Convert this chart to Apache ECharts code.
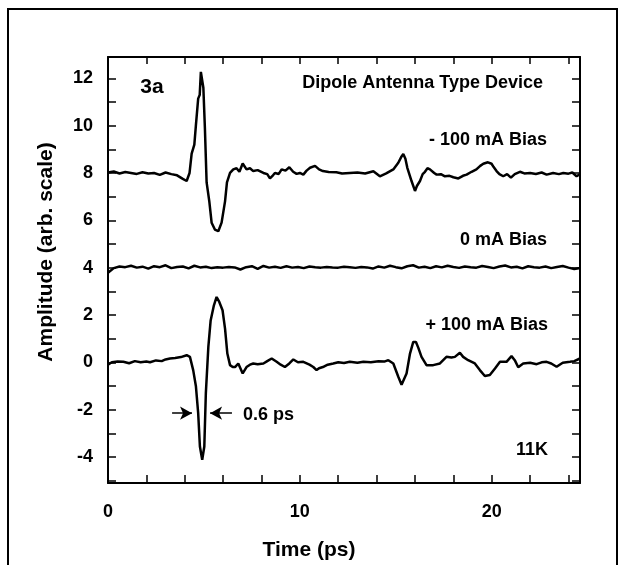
<!DOCTYPE html>
<html><head><meta charset="utf-8">
<script src="https://cdn.jsdelivr.net/npm/echarts@6/dist/echarts.min.js"></script>
<style>html,body{margin:0;padding:0;background:#fff}#c{width:625px;height:565px}</style>
</head><body><div id="c"></div>
<script>
// -100 mA bias trace (time ps, amplitude)
const tMinus = [0,0.3,0.6,0.9,1.2,1.5,1.8,2.1,2.4,2.7,3.0,3.3,3.6,3.9,4.1,4.25,4.36,4.5,4.58,4.7,4.78,4.84,4.97,5.05,5.14,5.28,5.4,5.57,5.75,5.92,6.1,6.2,6.36,6.53,6.7,6.85,7.02,7.22,7.4,7.57,7.8,8.1,8.3,8.44,8.6,8.7,8.9,9.05,9.25,9.45,9.65,9.83,10.0,10.18,10.35,10.53,10.79,11.0,11.2,11.5,11.9,12.2,12.6,13.0,13.4,13.83,14.17,14.5,14.87,15.13,15.3,15.39,15.5,15.6,15.82,16.0,16.1,16.26,16.4,16.52,16.65,16.78,17.0,17.13,17.35,17.56,17.8,18.0,18.26,18.5,18.69,18.95,19.2,19.4,19.56,19.8,19.99,20.1,20.25,20.4,20.6,20.8,21.0,21.2,21.47,21.7,22.0,22.3,22.6,22.86,23.2,23.5,23.73,24.0,24.2,24.42,24.6];
const vMinus = [8.02,8.06,7.98,8.04,8.0,7.96,8.03,7.98,8.0,7.92,8.02,7.95,7.9,7.75,7.66,8.0,8.82,9.2,10.0,11.14,11.3,12.27,11.6,9.9,7.6,6.8,5.9,5.61,5.54,5.9,6.8,7.6,8.0,8.15,8.2,8.05,8.4,8.15,8.2,8.08,8.12,8.0,7.95,7.77,7.9,8.0,7.96,8.15,8.1,8.24,8.05,7.96,8.0,7.93,8.1,8.22,8.3,8.15,8.08,8.04,8.03,7.98,8.0,8.02,7.98,8.07,7.86,7.98,8.15,8.43,8.7,8.8,8.6,8.22,7.66,7.24,7.45,7.66,7.95,8.05,8.2,8.15,8.0,7.93,7.95,7.86,7.88,7.82,7.77,7.88,7.93,8.05,8.15,8.3,8.39,8.45,8.39,8.25,8.08,7.95,7.86,7.95,7.8,7.95,8.05,7.98,8.0,7.96,8.02,7.93,8.0,7.95,8.0,7.97,8.02,7.86,7.95];

// 0 mA bias trace
const tZero = [0,0.3,0.6,0.9,1.2,1.5,1.8,2.1,2.4,2.7,3.0,3.3,3.6,3.9,4.2,4.5,4.8,5.1,5.4,5.7,6.0,6.3,6.6,6.9,7.2,7.5,7.8,8.1,8.4,8.7,9.0,9.3,9.6,9.9,10.2,10.5,10.8,11.1,11.4,11.7,12.0,12.3,12.6,12.9,13.2,13.5,13.8,14.1,14.4,14.7,15.0,15.3,15.6,15.9,16.2,16.5,16.8,17.1,17.4,17.7,18.0,18.3,18.6,18.9,19.2,19.5,19.8,20.1,20.4,20.7,21.0,21.3,21.6,21.9,22.2,22.5,22.8,23.1,23.4,23.7,24.0,24.3,24.6];
const vZero = [3.78,3.98,4.05,4.02,4.08,4.0,4.04,3.96,4.06,4.02,4.1,3.98,4.03,4.05,3.97,4.08,4.01,4.04,3.98,4.02,4.0,4.03,4.01,3.92,4.02,4.06,3.95,4.07,4.0,4.04,3.99,4.06,4.0,4.03,3.98,4.05,4.02,4.0,4.03,4.01,4.0,4.04,4.02,3.99,4.03,4.01,3.96,4.05,4.0,4.08,4.02,3.97,4.06,4.1,4.0,4.04,3.98,4.06,4.01,4.08,4.03,3.99,4.05,4.02,4.0,4.07,4.03,3.98,4.05,4.09,4.01,4.04,3.97,4.06,4.02,4.0,4.05,3.98,4.03,4.07,4.0,3.94,3.98];

// +100 mA bias trace
const tPlus = [0,0.2,0.5,0.8,1.1,1.4,1.7,2.0,2.19,2.5,2.8,3.0,3.23,3.5,3.8,4.1,4.27,4.44,4.58,4.7,4.79,4.91,5.02,5.1,5.23,5.35,5.52,5.66,5.8,5.97,6.1,6.22,6.36,6.5,6.62,6.79,7.02,7.22,7.4,7.57,7.8,8.1,8.3,8.53,8.79,9.0,9.22,9.45,9.66,9.9,10.18,10.5,10.7,10.87,11.0,11.2,11.45,11.74,12.0,12.3,12.6,13.0,13.31,13.7,14.1,14.4,14.61,14.87,15.13,15.3,15.39,15.56,15.74,15.91,16.05,16.17,16.34,16.6,16.95,17.3,17.64,17.9,18.08,18.34,18.51,18.77,19.12,19.38,19.64,19.9,20.17,20.43,20.77,21.03,21.2,21.38,21.64,22.0,22.34,22.6,22.86,23.1,23.38,23.7,24.08,24.3,24.6];
const vPlus = [-0.1,0.0,0.03,0.02,-0.04,0.05,0.0,0.03,0.0,0.08,0.05,0.12,0.16,0.18,0.22,0.3,0.23,-0.33,-1.0,-2.15,-3.56,-4.12,-3.56,-1.3,0.65,1.77,2.41,2.76,2.55,2.2,1.42,0.37,-0.12,-0.2,-0.2,-0.05,-0.47,-0.2,-0.1,-0.05,-0.08,-0.05,0.05,0.16,0.02,-0.1,-0.2,-0.05,0.12,0.0,0.02,-0.1,-0.2,-0.33,-0.25,-0.2,-0.1,-0.05,0.0,-0.03,0.02,-0.02,0.02,0.0,0.04,0.03,0.09,-0.05,-0.61,-0.95,-1.0,-0.47,0.37,0.86,0.86,0.62,0.23,-0.12,-0.12,-0.05,0.23,0.2,0.23,0.4,0.23,0.09,-0.05,-0.33,-0.58,-0.54,-0.26,0.02,0.02,0.26,0.09,-0.21,-0.05,-0.02,-0.08,0.0,0.02,-0.05,-0.19,-0.02,0.02,0.05,0.16];

// axis ticks and labels
const xTicks = [0,2,4,6,8,10,12,14,16,18,20,22,24];
const xLabels = [0,10,20];
const yTicks = [-5,-4,-3,-2,-1,0,1,2,3,4,5,6,7,8,9,10,11,12];
const yLabels = [-4,-2,0,2,4,6,8,10,12];

// pulse-width arrows (amplitude level, left arrow from/to, right arrow from/to)
const arrowY = -2.15;
const arrowLeft = [3.34, 4.38];
const arrowRight = [6.46, 5.32];

const pair = (t, v) => t.map((x, i) => [x, v[i]]);
const FONT = '"Liberation Sans", Arial, sans-serif';
const chart = echarts.init(document.getElementById('c'), null, {renderer: 'canvas'});

const axisCommon = {
  type: 'value',
  axisLine: {show: true, onZero: false, lineStyle: {color: '#000', width: 2}},
  axisTick: {inside: true, length: 8, lineStyle: {color: '#000', width: 1.5}},
  splitLine: {show: false}
};
const lineSeries = (name, data) => ({
  name, type: 'line', data, showSymbol: false, symbol: 'none',
  lineStyle: {color: '#000', width: 2.5}, animation: false, z: 3
});

chart.setOption({
  animation: false,
  backgroundColor: '#fff',
  grid: {left: 108, right: 45, top: 57, bottom: 82},
  xAxis: [
    Object.assign({}, axisCommon, {min: 0, max: 24.6, position: 'bottom',
      axisTick: Object.assign({}, axisCommon.axisTick, {customValues: xTicks}),
      axisLabel: {customValues: xLabels, color: '#000', fontSize: 18, fontWeight: 'bold', fontFamily: FONT, margin: 20}}),
    Object.assign({}, axisCommon, {min: 0, max: 24.6, position: 'top',
      axisTick: Object.assign({}, axisCommon.axisTick, {customValues: xTicks, length: 7}),
      axisLabel: {show: false}})
  ],
  yAxis: [
    Object.assign({}, axisCommon, {min: -5.1, max: 12.9, position: 'left',
      axisTick: Object.assign({}, axisCommon.axisTick, {customValues: yTicks}),
      axisLabel: {customValues: yLabels, color: '#000', fontSize: 18, fontWeight: 'bold', fontFamily: FONT, margin: 15}}),
    Object.assign({}, axisCommon, {min: -5.1, max: 12.9, position: 'right',
      axisTick: Object.assign({}, axisCommon.axisTick, {customValues: yTicks}),
      axisLabel: {show: false}})
  ],
  series: [
    lineSeries('-100 mA', pair(tMinus, vMinus)),
    lineSeries('0 mA', pair(tZero, vZero)),
    Object.assign(lineSeries('+100 mA', pair(tPlus, vPlus)), {
      markLine: {
        silent: true, animation: false, symbol: ['none', 'arrow'], symbolSize: [10, 12],
        label: {show: false},
        lineStyle: {color: '#000', width: 1.5, type: 'solid'},
        data: [
          [{coord: [arrowLeft[0], arrowY]}, {coord: [arrowLeft[1], arrowY]}],
          [{coord: [arrowRight[0], arrowY]}, {coord: [arrowRight[1], arrowY]}]
        ]
      }
    })
  ],
  graphic: [
    {type: 'rect', shape: {x: 8, y: 9, width: 609, height: 600}, style: {fill: 'none', stroke: '#000', lineWidth: 2}, z: 0},
    {type: 'text', x: 152, y: 87, style: {text: '3a', font: 'bold 21px ' + FONT, fill: '#000', textAlign: 'center', textVerticalAlign: 'middle'}},
    {type: 'text', x: 543, y: 83, style: {text: 'Dipole Antenna Type Device', font: 'bold 18px ' + FONT, fill: '#000', textAlign: 'right', textVerticalAlign: 'middle'}},
    {type: 'text', x: 547, y: 140, style: {text: '- 100 mA Bias', font: 'bold 18px ' + FONT, fill: '#000', textAlign: 'right', textVerticalAlign: 'middle'}},
    {type: 'text', x: 547, y: 240, style: {text: '0 mA Bias', font: 'bold 18px ' + FONT, fill: '#000', textAlign: 'right', textVerticalAlign: 'middle'}},
    {type: 'text', x: 548, y: 325, style: {text: '+ 100 mA Bias', font: 'bold 18px ' + FONT, fill: '#000', textAlign: 'right', textVerticalAlign: 'middle'}},
    {type: 'text', x: 548, y: 450, style: {text: '11K', font: 'bold 18px ' + FONT, fill: '#000', textAlign: 'right', textVerticalAlign: 'middle'}},
    {type: 'text', x: 243, y: 415, style: {text: '0.6 ps', font: 'bold 18px ' + FONT, fill: '#000', textAlign: 'left', textVerticalAlign: 'middle'}},
    {type: 'text', x: 309, y: 550, style: {text: 'Time (ps)', font: 'bold 21px ' + FONT, fill: '#000', textAlign: 'center', textVerticalAlign: 'middle'}},
    {type: 'text', x: 46, y: 252, rotation: Math.PI / 2, style: {text: 'Amplitude (arb. scale)', font: 'bold 21px ' + FONT, fill: '#000', textAlign: 'center', textVerticalAlign: 'middle'}}
  ]
});
</script>
</body></html>
